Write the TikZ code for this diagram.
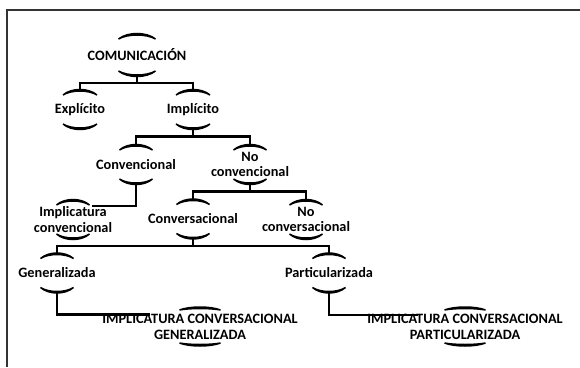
\documentclass[tikz,border=0pt]{standalone}
\usepackage{fontspec}
\setmainfont{Carlito}
\tikzset{
	etiqueta/.style={font=\bfseries\fontsize{14.3}{15.8}\selectfont, align=center, inner sep=0pt},
	rama/.style={line width=2.2pt},
	arco/.style={line width=1.5pt, draw=black, fill=black},
	marco/.style={line width=1.2pt, black!80}
}
% arcos arriba y abajo: nodo, semiancho, distancia, flecha
\newcommand\arcos[4]{%
	\filldraw[arco] ([shift={(-#2,-#3+#4)}]#1.center)
		.. controls +(#2/2,-4/3*#4) and +(-#2/2,-4/3*#4) .. ([shift={(#2,-#3+#4)}]#1.center)
		.. controls +(-#2/2,-4/3*#4+2) and +(#2/2,-4/3*#4+2) .. ([shift={(-#2,-#3+#4)}]#1.center) -- cycle;
	\filldraw[arco] ([shift={(-#2,#3-#4)}]#1.center)
		.. controls +(#2/2,4/3*#4) and +(-#2/2,4/3*#4) .. ([shift={(#2,#3-#4)}]#1.center)
		.. controls +(-#2/2,4/3*#4-2) and +(#2/2,4/3*#4-2) .. ([shift={(-#2,#3-#4)}]#1.center) -- cycle;
}
\begin{document}
\begin{tikzpicture}[x=1pt,y=-1pt]
	\useasboundingbox (0,0) rectangle (580,367);
	% marco
		\draw[marco] (580,10) -- (7,10) -- (7,367);
	% nodos
		\node[etiqueta] (com) at (137,55) {COMUNICACIÓN};
		\node[etiqueta] (exp) at (80,109.5) {Explícito};
		\node[etiqueta] (imp) at (193,109.5) {Implícito};
		\node[etiqueta] (conv) at (136,164.5) {Convencional};
		\node[etiqueta] (noconv) at (250,164.5) {No\\convencional};
		\node[etiqueta] (impconv) at (73,219.5) {Implicatura\\convencional};
		\node[etiqueta] (convers) at (193,219) {Conversacional};
		\node[etiqueta] (noconvers) at (306,219.5) {No\\conversacional};
		\node[etiqueta] (gen) at (57,273) {Generalizada};
		\node[etiqueta] (part) at (329,273) {Particularizada};
		\node[etiqueta] (icg) at (200,326.5) {IMPLICATURA CONVERSACIONAL\\GENERALIZADA};
		\node[etiqueta] (icp) at (465,326.5) {IMPLICATURA CONVERSACIONAL\\PARTICULARIZADA};
	% arcos
		\arcos{com}{18.5}{21.5}{5.5}
		\arcos{exp}{17}{20}{5.5}
		\arcos{imp}{17}{20}{5.5}
		\arcos{conv}{16.5}{20}{5.5}
		\arcos{noconv}{16.5}{20}{5.5}
		\arcos{impconv}{16.5}{20}{5.5}
		\arcos{convers}{16.5}{20}{5.5}
		\arcos{noconvers}{16.5}{20}{5.5}
		\arcos{gen}{16.5}{20}{5.5}
		\arcos{part}{16.5}{20}{5.5}
		\arcos{icg}{20.5}{19.5}{3}
		\arcos{icp}{20.5}{19.5}{3}
	% ramas
		\draw[rama] ([shift={(0,21.5)}]com.center) -- ++(0,6.5) -| ([shift={(0,-20)}]exp.center);
		\draw[rama] ([shift={(0,21.5)}]com.center) -- ++(0,6.5) -| ([shift={(0,-20)}]imp.center);
		\draw[rama] ([shift={(0,20)}]imp.center) -- ++(0,7) -| ([shift={(0,-20)}]conv.center);
		\draw[rama] ([shift={(0,20)}]imp.center) -- ++(0,7) -| ([shift={(0,-20)}]noconv.center);
		\draw[rama] ([shift={(0,20)}]noconv.center) -- ++(0,7) -| ([shift={(0,-20)}]convers.center);
		\draw[rama] ([shift={(0,20)}]noconv.center) -- ++(0,7) -| ([shift={(0,-20)}]noconvers.center);
		\draw[rama] ([shift={(0,20)}]convers.center) -- ++(0,7) -| ([shift={(0,-20)}]gen.center);
		\draw[rama] ([shift={(0,20)}]convers.center) -- ++(0,7) -| ([shift={(0,-20)}]part.center);
		\draw[rama] ([shift={(0,20)}]conv.center) |- ([shift={(19,-13.5)}]impconv.center);
		\draw[rama] ([shift={(0,20)}]gen.center) |- ([shift={(-50,-12)}]icg.center);
		\draw[rama] ([shift={(0,20)}]part.center) |- ([shift={(-47,-11.5)}]icp.center);
\end{tikzpicture}
\end{document}
